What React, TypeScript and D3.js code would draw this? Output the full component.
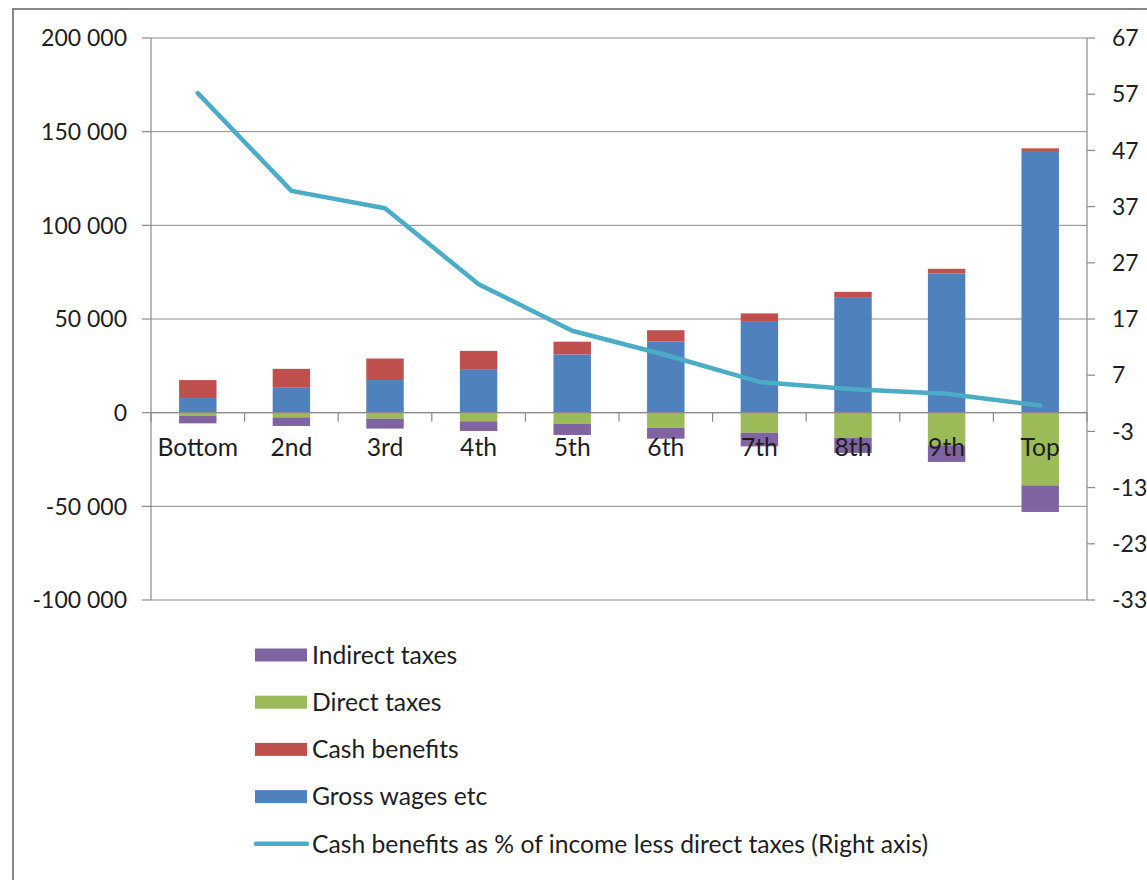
import React from "react";
import * as d3 from "d3";

const categories = ["Bottom", "2nd", "3rd", "4th", "5th", "6th", "7th", "8th", "9th", "Top"];
const grossWages = [7800, 13300, 17400, 22900, 31100, 38000, 48900, 61300, 74300, 139700];
const cashBenefits = [9600, 10100, 11500, 10100, 6800, 6000, 4100, 3200, 2500, 1400];
const directTaxes = [-1600, -2500, -3200, -4600, -5900, -8000, -10700, -13300, -17400, -38800];
const indirectTaxes = [-4100, -4600, -5300, -5200, -6000, -5900, -7300, -8200, -8900, -14200];
const cashPct = [57.2, 39.8, 36.7, 23.2, 14.9, 10.6, 5.8, 4.5, 3.7, 1.6];
const leftTicks = [200000, 150000, 100000, 50000, 0, -50000, -100000];
const rightTicks = [67, 57, 47, 37, 27, 17, 7, -3, -13, -23, -33];

const seriesKeys = ["gross", "cash", "direct", "indirect"];
const seriesColors: Record<string, string> = {
  gross: "#4F81BD",
  cash: "#C0504D",
  direct: "#9BBB59",
  indirect: "#8064A2",
};
const legendItems = [
  { label: "Indirect taxes", key: "indirect" },
  { label: "Direct taxes", key: "direct" },
  { label: "Cash benefits", key: "cash" },
  { label: "Gross wages etc", key: "gross" },
];
const lineLabel = "Cash benefits as % of income less direct taxes (Right axis)";
const lineColor = "#4BACC6";

const fontFamily = "Lato, 'Open Sans', sans-serif";
const numSize = 23;
const textSize = 24.7;
const textColor = "#1e1e1e";
const axisColor = "#8a8a8a";

export default function App() {
  const W = 1147, H = 880;
  const left = 151, right = 1087, top = 38, bottom = 600;

  const x = d3.scaleBand<string>().domain(categories).range([left, right]).paddingInner(0.6).paddingOuter(0.3);
  const y = d3.scaleLinear().domain([-100000, 200000]).range([bottom, top]);
  const yR = d3.scaleLinear().domain([-33, 67]).range([bottom, top]);

  const rows = categories.map((c, i) => ({
    cat: c,
    gross: grossWages[i],
    cash: cashBenefits[i],
    direct: directTaxes[i],
    indirect: indirectTaxes[i],
  }));
  const stacked = d3.stack<any>().keys(seriesKeys).offset(d3.stackOffsetDiverging)(rows);

  const fmt = d3
    .formatLocale({ decimal: ".", thousands: " ", grouping: [3], currency: ["", ""], minus: "-" })
    .format(",");

  const line = d3
    .line<number>()
    .x((_, i) => (x(categories[i]) as number) + x.bandwidth() / 2)
    .y((d) => yR(d));

  const step = x.step();
  const boundaries = d3.range(categories.length + 1).map((i) => left + i * step);

  const legendX = 255, legendSwW = 52, legendTextX = 312;
  const legendY0 = 655, legendDy = 47.2;

  return (
    <svg
      width={W}
      height={H}
      style={{ position: "fixed", left: 0, top: 0, background: "#fff" }}
      fontFamily={fontFamily}
    >
      <rect x={0} y={0} width={W} height={H} fill="#fff" />
      <rect x={13} y={9} width={W + 100} height={H + 100} fill="none" stroke="#878787" strokeWidth={2} />

      {leftTicks.map((t) => (
        <line key={"g" + t} x1={left} x2={right} y1={y(t)} y2={y(t)} stroke={axisColor} strokeWidth={1} />
      ))}

      {stacked.map((s) => (
        <g key={s.key} fill={seriesColors[s.key]}>
          {s.map((d, i) => (
            <rect
              key={i}
              x={x(categories[i])}
              width={x.bandwidth()}
              y={y(Math.max(d[0], d[1]))}
              height={Math.abs(y(d[0]) - y(d[1]))}
            />
          ))}
        </g>
      ))}

      <line x1={left} x2={left} y1={top} y2={bottom} stroke={axisColor} strokeWidth={1.2} />
      <line x1={right} x2={right} y1={top} y2={bottom} stroke={axisColor} strokeWidth={1.2} />
      <line x1={left} x2={right} y1={y(0)} y2={y(0)} stroke={axisColor} strokeWidth={1.2} />
      {leftTicks.map((t) => (
        <g key={"l" + t}>
          <line x1={left - 9} x2={left} y1={y(t)} y2={y(t)} stroke={axisColor} strokeWidth={1.2} />
          <text x={127} y={y(t)} dy="0.36em" textAnchor="end" fontSize={numSize} fill={textColor}>
            {fmt(t)}
          </text>
        </g>
      ))}
      {rightTicks.map((t) => (
        <g key={"r" + t}>
          <line x1={right} x2={right + 8} y1={yR(t)} y2={yR(t)} stroke={axisColor} strokeWidth={1.2} />
          <text x={1112} y={yR(t)} dy="0.36em" textAnchor="start" fontSize={numSize} fill={textColor}>
            {t}
          </text>
        </g>
      ))}
      {boundaries.map((b, i) => (
        <line key={"b" + i} x1={b} x2={b} y1={y(0)} y2={y(0) + 9} stroke={axisColor} strokeWidth={1.2} />
      ))}

      <path
        d={line(cashPct) as string}
        fill="none"
        stroke={lineColor}
        strokeWidth={4.5}
        strokeLinejoin="round"
        strokeLinecap="round"
      />

      {categories.map((c) => (
        <text
          key={"c" + c}
          x={(x(c) as number) + x.bandwidth() / 2}
          y={456}
          textAnchor="middle"
          fontSize={textSize}
          fill={textColor}
        >
          {c}
        </text>
      ))}

      {legendItems.map((it, i) => (
        <g key={it.key}>
          <rect
            x={legendX}
            y={legendY0 + i * legendDy - 6.5}
            width={legendSwW}
            height={13}
            fill={seriesColors[it.key]}
          />
          <text x={legendTextX} y={legendY0 + i * legendDy} dy="0.36em" fontSize={textSize} fill={textColor}>
            {it.label}
          </text>
        </g>
      ))}
      <line
        x1={legendX + 1}
        x2={legendX + legendSwW}
        y1={legendY0 + 4 * legendDy}
        y2={legendY0 + 4 * legendDy}
        stroke={lineColor}
        strokeWidth={4.5}
        strokeLinecap="round"
      />
      <text x={legendTextX} y={legendY0 + 4 * legendDy} dy="0.36em" fontSize={textSize} fill={textColor}>
        {lineLabel}
      </text>
    </svg>
  );
}
